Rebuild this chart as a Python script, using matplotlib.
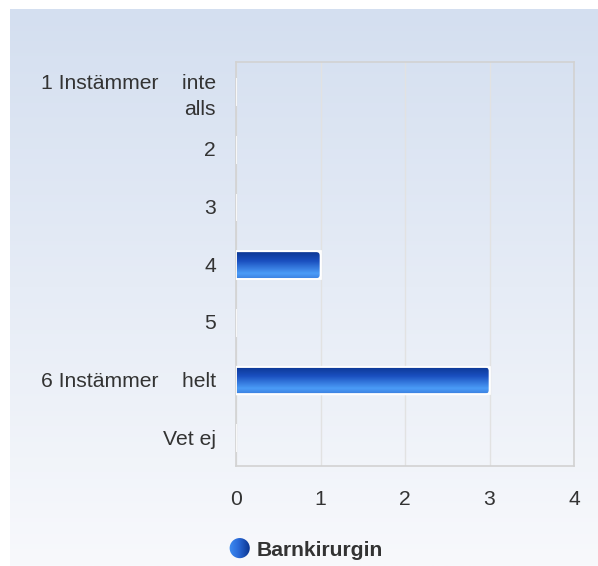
import numpy as np
import matplotlib
matplotlib.use("Agg")
import matplotlib.pyplot as plt
from matplotlib.colors import LinearSegmentedColormap
from matplotlib.patches import FancyBboxPatch, Circle
from matplotlib.lines import Line2D

plt.rcParams['font.family'] = ['Liberation Sans', 'DejaVu Sans']

categories = ["1 Instämmer    inte\nalls", "2", "3", "4", "5",
              "6 Instämmer    helt", "Vet ej"]
values = [0, 0, 0, 1, 0, 3, 0]
series_name = "Barnkirurgin"
x_ticks = [0, 1, 2, 3, 4]

W, H = 598, 566
fig = plt.figure(figsize=(W / 100, H / 100), dpi=100)
fig.patch.set_facecolor("white")

# soft blue panel behind the chart
bg = fig.add_axes([10 / W, 0, (W - 10) / W, (H - 9) / H], zorder=0)
bg_cmap = LinearSegmentedColormap.from_list("bg", ["#d4dff0", "#f8f9fc"])
bg.imshow(np.linspace(0, 1, 256).reshape(-1, 1), aspect="auto",
          cmap=bg_cmap, extent=[0, 1, 0, 1], origin="upper")
bg.set_axis_off()

x0, x1, y_top, y_bot = 236, 574, 62, 466
ax = fig.add_axes([x0 / W, 1 - y_bot / H, (x1 - x0) / W, (y_bot - y_top) / H],
                  zorder=1)
ax.patch.set_alpha(0)

n = len(categories)
ypos = np.arange(n)
bars = ax.barh(ypos + 0.02, values, height=0.48, color="none",
               edgecolor="white", linewidth=1.2, zorder=3)

bar_cmap = LinearSegmentedColormap.from_list(
    "bar", [(0, "#0b3590"), (0.35, "#1a4fbf"), (0.8, "#4b9cf7"), (1.0, "#3b7fe0")])
grad = np.linspace(0, 1, 128).reshape(-1, 1)
for rect, v in zip(bars, values):
    if v <= 0:
        continue
    bx, by = rect.get_x(), rect.get_y()
    bw, bh = rect.get_width(), rect.get_height()
    clip = FancyBboxPatch((bx - 0.1, by), bw + 0.1, bh,
                          boxstyle="round,pad=0,rounding_size=0.05",
                          mutation_aspect=1.46, transform=ax.transData,
                          facecolor="none", edgecolor="none")
    ax.add_patch(clip)
    im = ax.imshow(grad, aspect="auto", cmap=bar_cmap,
                   extent=[bx, bx + bw, by + bh, by], origin="upper",
                   zorder=2, interpolation="bilinear")
    im.set_clip_path(clip)
    edge = FancyBboxPatch((bx - 0.1, by), bw + 0.1, bh,
                          boxstyle="round,pad=0,rounding_size=0.05",
                          mutation_aspect=1.46, facecolor="none",
                          edgecolor="white", linewidth=1.2, zorder=4)
    ax.add_patch(edge)

ax.set_xlim(0, 4)
ax.set_ylim(n - 0.5, -0.5)
ax.set_xticks(x_ticks)
ax.set_xticklabels([str(t) for t in x_ticks])
ax.set_yticks(ypos)
ax.set_yticklabels(categories, linespacing=1.45)
ax.tick_params(axis="both", length=0, labelsize=15.2, colors="#333333")
ax.tick_params(axis="x", pad=17)
ax.tick_params(axis="y", pad=14.5)
ax.xaxis.grid(True, color="#e2e2e2", linewidth=1.0, zorder=0)
ax.set_axisbelow(True)
for s in ax.spines.values():
    s.set_color("#d2d2d2")
    s.set_linewidth(1.2)

handle = Line2D([], [], marker="o", linestyle="none", markersize=15,
                markerfacecolor="none", markeredgecolor="none")
leg = fig.legend([handle], [series_name], loc="center",
                 bbox_to_anchor=(306 / W, 1 - 550 / H),
                 frameon=False, handletextpad=0.3, handlelength=1.0,
                 prop={"weight": "bold", "size": 15.2}, labelcolor="#333333")

# shaded round legend key: bright on the left, deep blue on the right
fig.canvas.draw()
hb = leg.legend_handles[0].get_window_extent(fig.canvas.get_renderer())
cx, cy = (hb.x0 + hb.x1) / 2, (hb.y0 + hb.y1) / 2
r = 10.5
kax = fig.add_axes([(cx - r) / W, (cy - r) / H, 2 * r / W, 2 * r / H], zorder=3)
kax.set_axis_off()
kax.set_xlim(0, 1)
kax.set_ylim(0, 1)
key_cmap = LinearSegmentedColormap.from_list(
    "key", [(0, "#3f8df2"), (0.45, "#2a6ad8"), (1.0, "#0b3590")])
kim = kax.imshow(np.linspace(0, 1, 64).reshape(1, -1), aspect="auto",
                 cmap=key_cmap, extent=[0, 1, 0, 1], interpolation="bilinear")
circ = Circle((0.5, 0.5), 0.48, transform=kax.transData, facecolor="none",
              edgecolor="none")
kax.add_patch(circ)
kim.set_clip_path(circ)

fig.savefig("out.png", dpi=100)
